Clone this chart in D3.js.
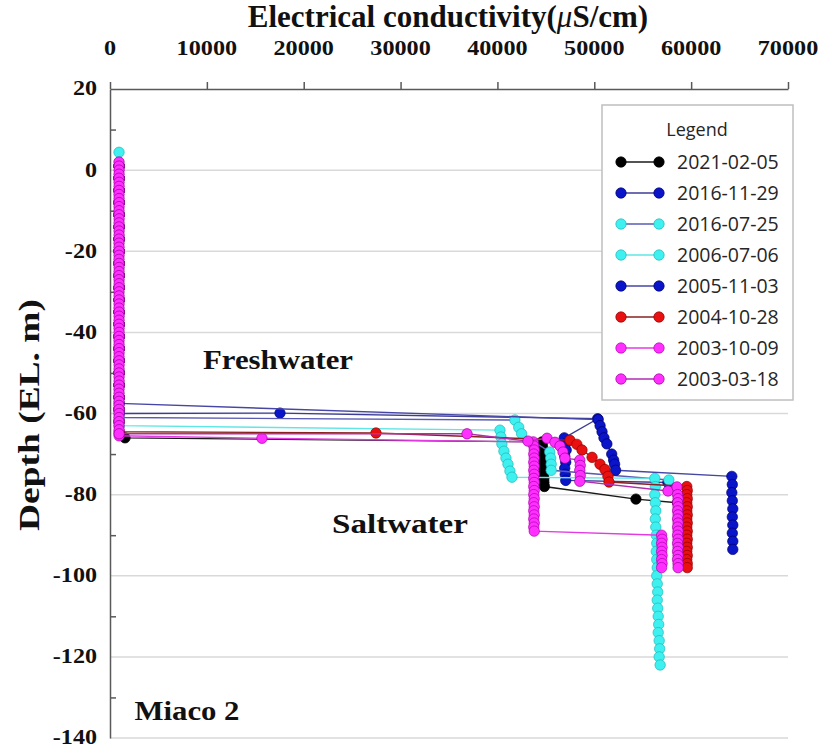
<!DOCTYPE html>
<html><head><meta charset="utf-8">
<script src="https://cdn.jsdelivr.net/npm/d3@7/dist/d3.min.js"></script>
<style>body{margin:0;background:#fff}svg{display:block}</style>
</head><body><svg id="c" width="829" height="748"></svg>
<script>
// ---------- data ----------
const xTicks = [0,10000,20000,30000,40000,50000,60000,70000];
const yTicks = [20,0,-20,-40,-60,-80,-100,-120,-140];
const yMinorTicks = [10,-10,-30,-50,-70,-90,-110,-130];
const seriesNames = ["2021-02-05","2016-11-29","2016-07-25","2006-07-06","2005-11-03","2004-10-28","2003-10-09","2003-03-18"];

// [EC (uS/cm), depth (EL. m)]
const s20210205 = [[950,1],[945,-2],[955,-5],[950,-8],[945,-11],[950,-14],[955,-17],[950,-20],[945,-23],[950,-26],[955,-29],[950,-32],[945,-35],[950,-38],[955,-41],[950,-44],[945,-47],[950,-50],[955,-53],[950,-56],[945,-59],[950,-62],[960,-65],[1550,-66],
 [44600,-67],[44650,-68],[44700,-69],[44650,-70],[44700,-71],[44700,-72],[44750,-73],[44700,-74],[44750,-75],[44800,-76],[44800,-77],[44850,-78],
 [54300,-81.1],[58600,-82]];
const s20161129 = [[940,1],[945,-2],[950,-5],[945,-8],[940,-11],[945,-14],[950,-17],[945,-20],[940,-23],[945,-26],[950,-29],[945,-32],[940,-35],[945,-38],[950,-41],[945,-44],[940,-47],[945,-50],[950,-53],[945,-56],[940,-59],[950,-60],
 [17550,-59.9],[50350,-61.3],
 [46900,-66],[47000,-67.5],[47100,-69],[46950,-70.5],[47050,-72],[46950,-73.5],[47000,-75],[47050,-76.5],[57600,-77]];
const s20160725 = [[935,1],[940,-2],[945,-5],[940,-8],[935,-11],[940,-14],[945,-17],[940,-20],[935,-23],[940,-26],[945,-29],[940,-32],[935,-35],[940,-38],[945,-41],[940,-44],[935,-47],[940,-50],[945,-53],[940,-56],[935,-59],[945,-61],
 [41800,-61.6],[42200,-63.4],[42500,-65],[45400,-69.5],[45500,-71],[45550,-72.5],[45550,-74],[57700,-76.4]];
const s20060706 = [[930,4.4],[935,1],[940,-2],[935,-5],[940,-8],[935,-11],[940,-14],[935,-17],[940,-20],[935,-23],[940,-26],[935,-29],[940,-32],[935,-35],[940,-38],[935,-41],[940,-44],[935,-47],[940,-50],[935,-53],[940,-56],[935,-59],[940,-62],[940,-63],
 [40260,-64.1],[40360,-65.8],[40460,-67.5],[40670,-69.3],[40880,-71],[41090,-72.5],[41290,-74.2],[41500,-75.7],
 [56250,-76],[56300,-78],[56250,-80],[56300,-82],[56350,-84],[56300,-86],[56350,-88],[56400,-90],[56450,-92],[56400,-94],[56450,-96],[56500,-98],[56450,-100],[56500,-102],[56550,-104],[56500,-106],[56550,-108],[56600,-110],[56650,-112],[56600,-114],[56700,-116],[56750,-118],[56700,-120],[56800,-122]];
const s20051103 = [[945,1],[950,-2],[945,-5],[950,-8],[945,-11],[950,-14],[945,-17],[950,-20],[945,-23],[950,-26],[945,-29],[950,-32],[945,-35],[950,-38],[945,-41],[950,-44],[945,-47],[950,-50],[945,-53],[950,-56],[950,-57.5],
 [50400,-61.5],[50600,-63],[50800,-64.5],[51000,-66],[51300,-67.5],[51800,-70],[52000,-71.5],[52100,-72.5],[52200,-74],
 [64200,-75.5],[64250,-77.5],[64200,-79.5],[64250,-81.5],[64300,-83.5],[64250,-85.5],[64300,-87.5],[64250,-89.5],[64300,-91.5],[64300,-93.5]];
const s20041028 = [[940,1],[935,-2],[940,-5],[935,-8],[940,-11],[935,-14],[940,-17],[935,-20],[940,-23],[935,-26],[940,-29],[935,-32],[940,-35],[935,-38],[940,-41],[935,-44],[940,-47],[935,-50],[940,-53],[935,-56],[940,-59],[935,-62],[945,-64.5],
 [27460,-64.8],
 [47490,-66.6],[48200,-67.6],[48730,-69],[49770,-70.8],[50590,-72.5],[51100,-73.8],[51410,-75.5],[51520,-76.9],
 [59550,-78],[59600,-79],[59550,-80],[59600,-81],[59550,-82],[59600,-83],[59550,-84],[59600,-85],[59550,-86],[59600,-87],[59550,-88],[59600,-89],[59550,-90],[59600,-91],[59550,-92],[59600,-93],[59550,-94],[59600,-95],[59550,-96],[59600,-97],[59600,-98]];
const s20031009 = [[935,1],[940,-2],[935,-5],[940,-8],[935,-11],[940,-14],[935,-17],[940,-20],[935,-23],[940,-26],[935,-29],[940,-32],[935,-35],[940,-38],[935,-41],[940,-44],[935,-47],[940,-50],[935,-53],[940,-56],[935,-59],[940,-62],[945,-65.5],
 [15690,-66.1],
 [43700,-67],[43750,-68],[43800,-69],[43750,-70],[43800,-71],[43750,-72],[43800,-73],[43750,-74],[43800,-75],[43750,-76],[43800,-77],[43750,-78],[43800,-79],[43750,-80],[43800,-81],[43750,-82],[43800,-83],[43750,-84],[43800,-85],[43750,-86],[43800,-87],[43750,-88],[43800,-89],
 [56950,-90],[57000,-91],[56950,-92],[57000,-93],[56950,-94],[57000,-95],[56950,-96],[57000,-97],[56950,-98]];
const s20030318 = [[930,2],[935,1],[940,0],[935,-1],[930,-2],[935,-3],[940,-4],[935,-5],[930,-6],[935,-7],[940,-8],[935,-9],[930,-10],[935,-11],[940,-12],[935,-13],[930,-14],[935,-15],[940,-16],[935,-17],[930,-18],[935,-19],[940,-20],[935,-21],[930,-22],[935,-23],[940,-24],[935,-25],[930,-26],[935,-27],[940,-28],[935,-29],[930,-30],[935,-31],[940,-32],[935,-33],[930,-34],[935,-35],[940,-36],[935,-37],[930,-38],[935,-39],[940,-40],[935,-41],[930,-42],[935,-43],[940,-44],[935,-45],[930,-46],[935,-47],[940,-48],[935,-49],[930,-50],[935,-51],[940,-52],[935,-53],[930,-54],[935,-55],[940,-56],[935,-57],[930,-58],[935,-59],[940,-60],[935,-61],[930,-62],[935,-63],[940,-64],[945,-65],
 [36860,-65],[43150,-66.8],[45120,-66.1],[45940,-67.1],[46460,-68],[46770,-69.5],[46970,-71],
 [48500,-71.5],[48550,-72.8],[48500,-74],[48550,-75.3],[48500,-76.7],
 [57610,-79.1],[58540,-78.1],
 [58600,-80],[58650,-81],[58600,-82],[58650,-83],[58600,-84],[58650,-85],[58600,-86],[58650,-87],[58600,-88],[58650,-89],[58600,-90],[58650,-91],[58600,-92],[58650,-93],[58600,-94],[58650,-95],[58600,-96],[58650,-97],[58650,-98]];

const seriesData = [s20210205,s20161129,s20160725,s20060706,s20051103,s20041028,s20031009,s20030318];

// ---------- styles ----------
const markerFill   = ["#000000","#0a14c8","#3ff0f0","#3ff0f0","#0a14c8","#e81010","#ff30ff","#ff30ff"];
const markerStroke = ["#000000","#00006a","#1fb8b8","#1fb8b8","#00006a","#900000","#b000b0","#9a009a"];
const lineColor    = ["#1a1a1a","#3c3c96","#5a5ab4","#5fe6e6","#4646a6","#8a2020","#e33be3","#b02cb0"];

const svg = d3.select("#c");
const W = 829, H = 748;
svg.append("rect").attr("width",W).attr("height",H).attr("fill","#fff");

const x = d3.scaleLinear().domain([0,70000]).range([110,788]);
const y = d3.scaleLinear().domain([20,-140]).range([89,738]);

const serif = "'Liberation Serif','Times New Roman',serif";
function stretch(sel, k){ sel.each(function(){ const w=this.getComputedTextLength(); d3.select(this).attr("textLength",w*k).attr("lengthAdjust","spacingAndGlyphs"); }); }
function fitTo(sel, w){ sel.attr("textLength",w).attr("lengthAdjust","spacingAndGlyphs"); }

// gridlines
svg.append("g").selectAll("line").data(yTicks.filter(d=>d!==20)).join("line")
  .attr("x1",x(0)).attr("x2",x(70000)).attr("y1",d=>y(d)).attr("y2",d=>y(d))
  .attr("stroke","#d9d9d9").attr("stroke-width",1.5);

// top axis
const xAxis = d3.axisTop(x).tickValues(xTicks).tickSize(7).tickSizeOuter(0).tickFormat(d=>d);
const gx = svg.append("g").attr("transform",`translate(0,${y(20)})`).call(xAxis);
gx.select(".domain").attr("stroke","#595959").attr("stroke-width",1.5);
gx.selectAll(".tick line").attr("stroke","#595959").attr("stroke-width",1.5);
gx.selectAll(".tick text").remove();
const xl = svg.append("g").selectAll("text").data(xTicks).join("text")
  .attr("x",d=>x(d)).attr("y",55).attr("text-anchor","middle")
  .attr("font-family",serif).attr("font-weight","bold").attr("font-size",22).attr("fill","#111")
  .text(d=>d);
stretch(xl,1.1);

// left axis
const yAxis = d3.axisLeft(y).tickValues(yMinorTicks).tickSize(-6).tickSizeOuter(0).tickFormat("");
const gy = svg.append("g").attr("transform",`translate(${x(0)},0)`).call(yAxis);
gy.select(".domain").attr("stroke","#595959").attr("stroke-width",1.5);
gy.selectAll(".tick line").attr("stroke","#595959").attr("stroke-width",1.5);
const yl = svg.append("g").selectAll("text").data(yTicks).join("text")
  .attr("x",97).attr("y",d=>y(d)).attr("dy","0.3em").attr("text-anchor","end")
  .attr("font-family",serif).attr("font-weight","bold").attr("font-size",21.5).attr("fill","#111")
  .text(d=>d);
stretch(yl,1.12);

// titles
const t = svg.append("text").attr("x",448).attr("y",27).attr("text-anchor","middle")
  .attr("font-family",serif).attr("font-weight","bold").attr("font-size",31).attr("fill","#111");
t.append("tspan").text("Electrical conductivity(");
t.append("tspan").attr("font-style","italic").attr("font-weight","normal").text("\u03bc");
t.append("tspan").text("S/cm)");

const yt = svg.append("text").attr("transform","translate(39,415) rotate(-90)").attr("text-anchor","middle")
  .attr("font-family",serif).attr("font-weight","bold").attr("font-size",30).attr("fill","#111")
  .text("Depth (EL. m)");
fitTo(yt,232);

const annot = [["Freshwater",278,369,150],["Saltwater",400,533,136],["Miaco 2",187,720,105]];
svg.append("g").selectAll("text").data(annot).join("text")
  .attr("x",d=>d[1]).attr("y",d=>d[2]).attr("text-anchor","middle")
  .attr("font-family",serif).attr("font-weight","bold").attr("font-size",27).attr("fill","#111")
  .attr("textLength",d=>d[3]).attr("lengthAdjust","spacingAndGlyphs")
  .text(d=>d[0]);

// series
const line = d3.line().x(d=>x(d[0])).y(d=>y(d[1]));
seriesData.forEach((s,i)=>{
  const g = svg.append("g");
  g.append("path").datum(s).attr("d",line).attr("fill","none")
    .attr("stroke",lineColor[i]).attr("stroke-width",1.4);
  g.selectAll("circle").data(s).join("circle")
    .attr("cx",d=>x(d[0])).attr("cy",d=>y(d[1])).attr("r",5.2)
    .attr("fill",markerFill[i]).attr("stroke",markerStroke[i]).attr("stroke-width",0.7);
});

// legend
const lg = svg.append("g");
lg.append("rect").attr("x",602).attr("y",105).attr("width",191).attr("height",295)
  .attr("fill","#fff").attr("stroke","#bfbfbf").attr("stroke-width",1.5);
lg.append("text").attr("x",697).attr("y",130).attr("dy","0.35em").attr("text-anchor","middle")
  .attr("font-family","'Open Sans',sans-serif").attr("font-size",18).attr("fill","#262626").text("Legend");
seriesNames.forEach((n,i)=>{
  const yy = 162 + i*31;
  lg.append("line").attr("x1",621).attr("x2",659).attr("y1",yy).attr("y2",yy)
    .attr("stroke",lineColor[i]).attr("stroke-width",1.4);
  [621,659].forEach(cx=>lg.append("circle").attr("cx",cx).attr("cy",yy).attr("r",5.2)
    .attr("fill",markerFill[i]).attr("stroke",markerStroke[i]).attr("stroke-width",0.7));
  lg.append("text").attr("x",677).attr("y",yy).attr("dy","0.35em")
    .attr("font-family","'Open Sans',sans-serif").attr("font-size",19.5).attr("fill","#262626").text(n);
});
</script>
</body></html>
